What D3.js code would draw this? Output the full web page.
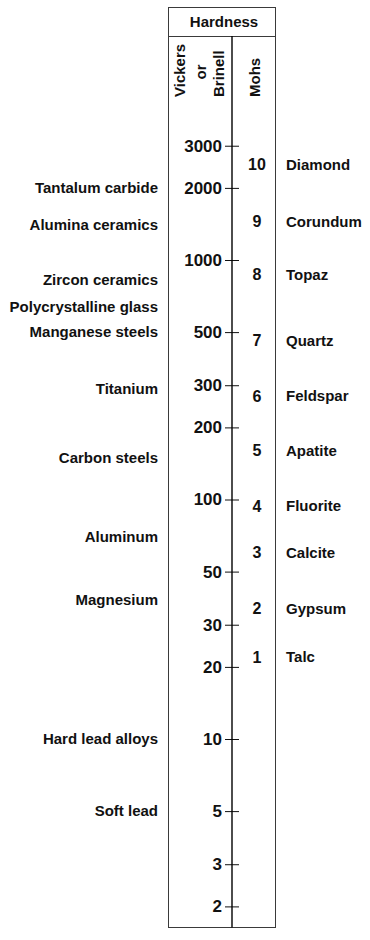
<!DOCTYPE html>
<html>
<head>
<meta charset="utf-8">
<script src="https://cdn.jsdelivr.net/npm/d3@7/dist/d3.min.js"></script>
<style>
  html, body { margin: 0; padding: 0; background: #fff; }
  svg { display: block; }
  text { font-family: "Liberation Sans", Arial, sans-serif; font-weight: bold; fill: #111; }
</style>
</head>
<body>
<svg id="chart" width="370" height="940"></svg>
<script>
// Vickers / Brinell tick values on the log axis
const tickValues = [3000, 2000, 1000, 500, 300, 200, 100, 50, 30, 20, 10, 5, 3, 2];

// Materials and their approximate Vickers/Brinell hardness
const materials = ["Tantalum carbide", "Alumina ceramics", "Zircon ceramics", "Polycrystalline glass",
  "Manganese steels", "Titanium", "Carbon steels", "Aluminum", "Magnesium", "Hard lead alloys", "Soft lead"];
const materialHardness = [2000, 1400, 830, 640, 500, 290, 150, 70, 38, 10, 5];

// Mohs scale minerals and their equivalent Vickers hardness
const mohsNumbers = [10, 9, 8, 7, 6, 5, 4, 3, 2, 1];
const mohsMinerals = ["Diamond", "Corundum", "Topaz", "Quartz", "Feldspar", "Apatite", "Fluorite", "Calcite", "Gypsum", "Talc"];
const mohsVickers = [2500, 1450, 870, 460, 270, 160, 94, 60, 35, 22];

const svg = d3.select("#chart");

// layout of the table frame
const boxLeft = 168, boxRight = 275, boxTop = 7, headerBottom = 36, boxBottom = 927;
const axisX = 232;

const y = d3.scaleLog().domain([10, 1000]).range([739, 260]);

// frame
const frame = svg.append("g").attr("fill", "none").attr("stroke", "#3a3a3a").attr("stroke-width", 1);
frame.append("rect")
  .attr("x", boxLeft + 0.5).attr("y", boxTop + 0.5)
  .attr("width", boxRight - boxLeft).attr("height", boxBottom - boxTop);
frame.append("line")
  .attr("x1", boxLeft).attr("x2", boxRight + 1)
  .attr("y1", headerBottom + 0.5).attr("y2", headerBottom + 0.5);

// header texts
svg.append("text")
  .attr("x", 224).attr("y", 27)
  .attr("text-anchor", "middle").attr("font-size", 15)
  .text("Hardness");

const rotated = [
  { t: "Vickers", x: 185, y: 97, anchor: "start" },
  { t: "or", x: 206, y: 72, anchor: "middle" },
  { t: "Brinell", x: 224, y: 97, anchor: "start" },
  { t: "Mohs", x: 260, y: 97, anchor: "start" }
];
svg.selectAll("text.rot").data(rotated).join("text")
  .attr("class", "rot")
  .attr("transform", d => `translate(${d.x},${d.y}) rotate(-90)`)
  .attr("text-anchor", d => d.anchor)
  .attr("font-size", 15)
  .text(d => d.t);

// Vickers / Brinell axis
const axis = d3.axisLeft(y)
  .tickValues(tickValues)
  .tickFormat(d3.format("d"))
  .tickSize(0)
  .tickPadding(10);

const axisG = svg.append("g")
  .attr("transform", `translate(${axisX},0)`)
  .call(axis);
axisG.select(".domain").remove();
axisG.selectAll(".tick text")
  .attr("font-size", 17)
  .attr("font-family", "Liberation Sans, Arial, sans-serif")
  .attr("font-weight", "bold")
  .attr("fill", "#111");
// ticks crossing the vertical line
axisG.selectAll(".tick").append("line")
  .attr("x1", -7).attr("x2", 7)
  .attr("stroke", "#111").attr("stroke-width", 1);

svg.append("line")
  .attr("x1", axisX).attr("x2", axisX)
  .attr("y1", headerBottom).attr("y2", boxBottom + 0.5)
  .attr("stroke", "#000").attr("stroke-width", 1.4);

// materials, to the left of the frame
svg.selectAll("text.mat").data(materials).join("text")
  .attr("class", "mat")
  .attr("x", 158)
  .attr("y", (d, i) => y(materialHardness[i]))
  .attr("dy", "0.35em")
  .attr("text-anchor", "end")
  .attr("font-size", 15)
  .text(d => d);

// Mohs numbers inside the frame
svg.selectAll("text.mohs").data(mohsNumbers).join("text")
  .attr("class", "mohs")
  .attr("x", 257)
  .attr("y", (d, i) => y(mohsVickers[i]))
  .attr("dy", "0.35em")
  .attr("text-anchor", "middle")
  .attr("font-size", 16)
  .text(d => d);

// Mohs minerals, to the right of the frame
svg.selectAll("text.min").data(mohsMinerals).join("text")
  .attr("class", "min")
  .attr("x", 286)
  .attr("y", (d, i) => y(mohsVickers[i]))
  .attr("dy", "0.35em")
  .attr("text-anchor", "start")
  .attr("font-size", 15)
  .text(d => d);
</script>
</body>
</html>
